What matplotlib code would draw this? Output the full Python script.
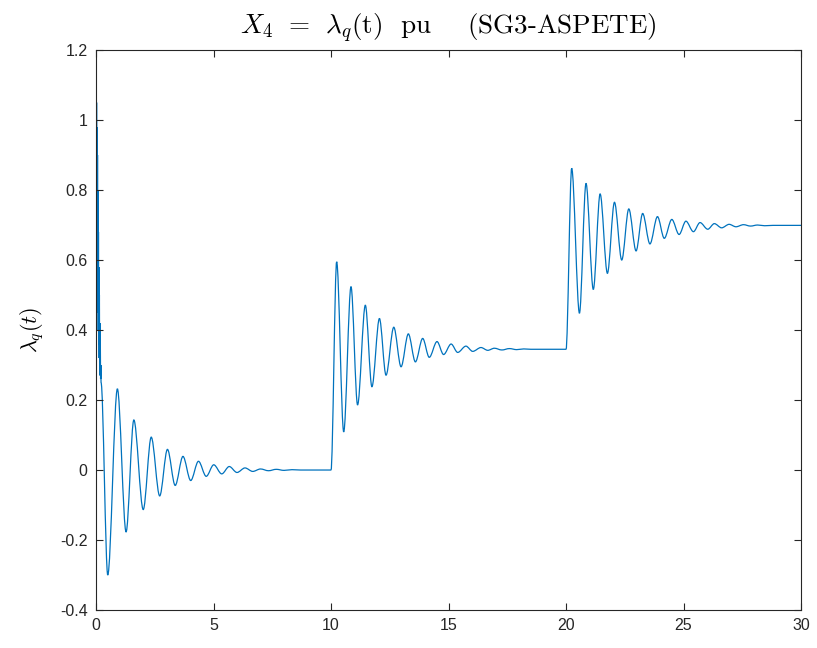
import numpy as np
import matplotlib
matplotlib.use("Agg")
import matplotlib.pyplot as plt
from matplotlib.path import Path
from matplotlib.patches import PathPatch

plt.rcParams['font.family'] = ['Liberation Sans', 'DejaVu Sans']
plt.rcParams['mathtext.fontset'] = 'cm'
plt.rcParams['axes.unicode_minus'] = False

# extrema, segment by segment (time s, lambda_q pu)
# start transient 0..10 s
t_seg1 = [0.000, 0.005, 0.015, 0.025, 0.035, 0.045, 0.055, 0.065, 0.075, 0.085,
          0.095, 0.105, 0.115, 0.125, 0.135, 0.145, 0.155, 0.165, 0.175, 0.185,
          0.195, 0.205, 0.215,
          0.50, 0.91, 1.28, 1.61, 2.01, 2.35, 2.71, 3.04, 3.37, 3.70, 4.03,
          4.36, 4.69, 5.01, 5.35, 5.67, 6.00, 6.34, 6.67, 7.00, 7.34, 7.67,
          8.00, 8.34, 8.70, 10.00]
v_seg1 = [0.80, 1.09, 0.52, 1.05, 0.50, 0.98, 0.48, 0.90, 0.45, 0.80,
          0.40, 0.68, 0.36, 0.58, 0.32, 0.50, 0.29, 0.42, 0.27, 0.36,
          0.26, 0.30, 0.25,
          -0.30, 0.232, -0.177, 0.143, -0.113, 0.094, -0.074, 0.059, -0.044, 0.039, -0.030,
          0.025, -0.018, 0.015, -0.011, 0.010, -0.007, 0.006, -0.004, 0.003, -0.002, 0.002,
          -0.001, 0.001, 0.0, 0.0]

# load step at 10 s
t_seg2 = [10.24, 10.54, 10.85, 11.13, 11.46, 11.74, 12.06, 12.34, 12.67, 12.98,
          13.29, 13.59, 13.90, 14.18, 14.51, 14.79, 15.11, 15.39, 15.74, 16.03,
          16.38, 16.67, 16.95, 17.27, 17.59, 17.90, 18.20, 18.50, 20.00]
v_seg2 = [0.595, 0.109, 0.524, 0.186, 0.471, 0.238, 0.433, 0.271, 0.408, 0.295,
          0.389, 0.309, 0.376, 0.322, 0.367, 0.330, 0.360, 0.336, 0.354, 0.339,
          0.350, 0.342, 0.348, 0.343, 0.347, 0.344, 0.346, 0.345, 0.345]

# load step at 20 s
t_seg3 = [20.24, 20.57, 20.85, 21.16, 21.45, 21.76, 22.06, 22.37, 22.67, 22.98,
          23.26, 23.57, 23.89, 24.18, 24.50, 24.81, 25.10, 25.42, 25.70, 26.03,
          26.31, 26.62, 26.94, 27.23, 27.55, 27.85, 28.15, 28.45, 28.80, 30.00]
v_seg3 = [0.862, 0.448, 0.819, 0.516, 0.789, 0.562, 0.765, 0.600, 0.746, 0.626,
          0.733, 0.646, 0.724, 0.662, 0.716, 0.673, 0.711, 0.681, 0.707, 0.688,
          0.704, 0.692, 0.702, 0.695, 0.701, 0.697, 0.700, 0.698, 0.699, 0.699]

x_ticks = [0, 5, 10, 15, 20, 25, 30]
y_ticks = [-0.4, -0.2, 0, 0.2, 0.4, 0.6, 0.8, 1, 1.2]

t = t_seg1 + t_seg2 + t_seg3
v = v_seg1 + v_seg2 + v_seg3

fig = plt.figure(figsize=(8.17, 6.48), dpi=100)
ax = fig.add_axes([0.1175, 0.0586, 0.863, 0.8642])

# smooth curve through the extrema (flat tangent at each turning point)
verts = [(t[0], v[0])]
codes = [Path.MOVETO]
for i in range(len(t) - 1):
    dt = t[i + 1] - t[i]
    verts += [(t[i] + dt / 3, v[i]), (t[i + 1] - dt / 3, v[i + 1]), (t[i + 1], v[i + 1])]
    codes += [Path.CURVE4] * 3
ax.add_patch(PathPatch(Path(verts, codes), fill=False, edgecolor='#0072BD', lw=0.9))

ax.set_xlim(0, 30)
ax.set_ylim(-0.4, 1.2)
ax.set_xticks(x_ticks)
ax.set_yticks(y_ticks)
ax.set_xticklabels(['%g' % x for x in x_ticks])
ax.set_yticklabels(['%g' % y for y in y_ticks])
ax.tick_params(direction='in', length=5, width=0.8, top=True, right=True,
               labelsize=11.5, colors='#262626', pad=6)
for s in ax.spines.values():
    s.set_color('#262626')
    s.set_linewidth(0.8)

ax.set_title(r'$X_4\;\,=\;\,\lambda_q$(t)  pu    (SG3-ASPETE)', fontfamily='cmr10',
             fontsize=19.5, pad=11)
ax.set_ylabel(r'$\lambda_q(t)$', fontsize=16, labelpad=10)

fig.savefig('out.png', dpi=100)
